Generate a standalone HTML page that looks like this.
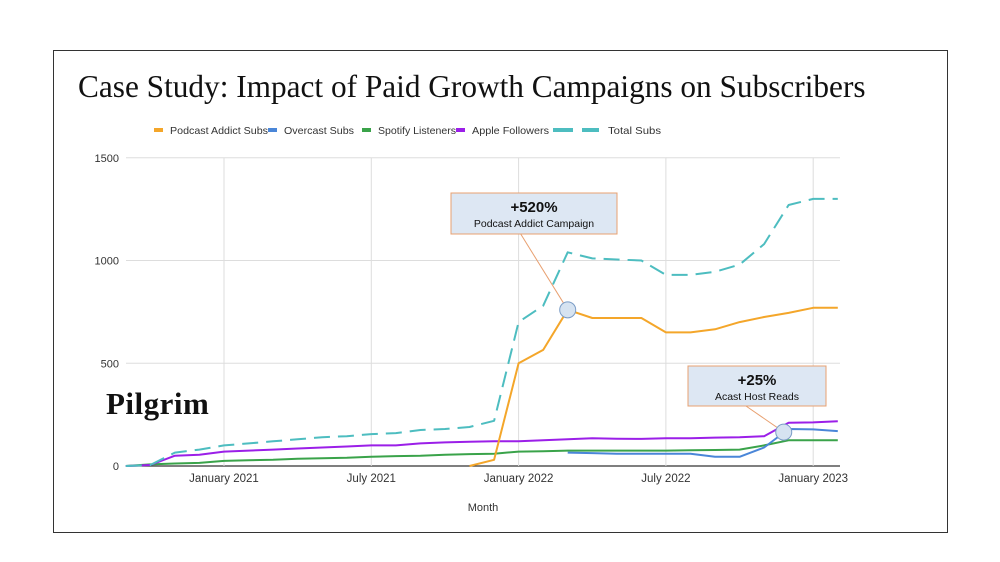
<!DOCTYPE html>
<html><head><meta charset="utf-8"><style>
body{margin:0;background:#fff;width:1000px;height:562px;overflow:hidden;font-family:"Liberation Sans",sans-serif}
#frame{position:absolute;left:53px;top:50px;width:895px;height:483px;border:1px solid #333;box-sizing:border-box}
#title{position:absolute;left:78px;top:69px;font-family:"Liberation Serif",serif;font-size:31.3px;color:#111;white-space:nowrap}
#logo{position:absolute;left:106px;top:386px;font-family:"Liberation Serif",serif;font-weight:bold;font-size:31px;color:#111;letter-spacing:0.5px}
svg{position:absolute;left:0;top:0}
</style></head><body>
<div id="frame"></div>
<div id="title">Case Study: Impact of Paid Growth Campaigns on Subscribers</div>
<svg id="chart" width="1000" height="562"></svg>
<div id="logo">Pilgrim</div>
<script>
// months relative to January 2021 (index 0)
const months=[-4,-3,-2,-1,0,1,2,3,4,5,6,7,8,9,10,11,12,13,14,15,16,17,18,19,20,21,22,23,24,25];
const totalSubs=[0,5,65,80,100,110,120,130,140,145,155,160,175,180,190,220,700,780,1040,1010,1005,1000,930,930,945,980,1080,1270,1300,1300];
const podcastAddict=[null,null,null,null,null,null,null,null,null,null,null,null,null,null,0,30,500,565,760,720,720,720,650,650,665,700,725,745,770,770];
const overcast=[null,null,null,null,null,null,null,null,null,null,null,null,null,null,null,null,null,null,65,63,60,60,60,60,45,45,90,180,178,170];
const spotify=[0,8,12,15,25,28,30,35,38,40,45,48,50,55,58,60,70,72,75,75,75,75,75,77,78,80,100,125,125,125];
const apple=[0,5,50,55,70,75,80,85,90,95,100,100,110,115,118,120,120,125,130,135,133,132,135,135,138,140,145,210,212,218];
const yTicks=[0,500,1000,1500];
const xTickMonths=[0,6,12,18,24];
const xTickLabels=["January 2021","July 2021","January 2022","July 2022","January 2023"];
const ns="http://www.w3.org/2000/svg",svg=document.getElementById('chart');
const X=m=>224+m*24.55, Y=v=>466-v*0.2055;
function mk(t,a,txt){const e=document.createElementNS(ns,t);for(const k in a)e.setAttribute(k,a[k]);if(txt!=null)e.textContent=txt;svg.appendChild(e);return e;}
yTicks.forEach(v=>{
 const l=mk('line',{x1:126,x2:840,y1:Y(v),y2:Y(v),stroke:v?'#ddd':'#333','stroke-width':v?1:1.2});
 
 const t=mk('text',{x:119,y:Y(v)+4,'text-anchor':'end','font-size':11,fill:'#333'},v);
 
});
xTickMonths.forEach((m,i)=>{
 const l=mk('line',{x1:X(m),x2:X(m),y1:Y(1500),y2:466,stroke:'#ddd'});
 
 const t=mk('text',{x:X(m),y:482,'text-anchor':'middle','font-size':11.5,fill:'#333'},xTickLabels[i]);
 
});
const xt=mk('text',{x:483,y:511,'text-anchor':'middle','font-size':11,fill:'#333'},'Month');

function series(vals,color,name,dash){
 let d='',pen=false;
 vals.forEach((v,i)=>{if(v==null){pen=false;return;}d+=(pen?'L':'M')+X(months[i]).toFixed(1)+','+Y(v).toFixed(1);pen=true;});
 const p=mk('path',{d:d,fill:'none',stroke:color,'stroke-width':2,'stroke-linejoin':'round'});
 if(dash)p.setAttribute('stroke-dasharray',dash);
 
}
series(spotify,'#3aa34a','spotify-line');
series(overcast,'#4a86d8','overcast-line');
series(apple,'#9b1fe8','apple-line');
series(podcastAddict,'#f4a62a','podcast-addict-line');
series(totalSubs,'#4dbdc0','total-subs-line','16,8');
// legend
const leg=[['Podcast Addict Subs','#f4a62a',154,170,98],['Overcast Subs','#4a86d8',268,284,70],['Spotify Listeners','#3aa34a',362,378,78],['Apple Followers','#9b1fe8',456,472,77]];
leg.forEach(L=>{
 const r=mk('rect',{x:L[2],y:128,width:9,height:4,fill:L[1]});
 
 const t=mk('text',{x:L[3],y:134,'font-size':10.5,fill:'#333',textLength:L[4],lengthAdjust:'spacingAndGlyphs'},L[0]);
 
});
const r1=mk('rect',{x:553,y:128,width:20,height:4,fill:'#4dbdc0'});
const r2=mk('rect',{x:582,y:128,width:17,height:4,fill:'#4dbdc0'});
const lt=mk('text',{x:608,y:134,'font-size':10.5,fill:'#333',textLength:53,lengthAdjust:'spacingAndGlyphs'},'Total Subs');
// annotations
function anno(bx,by,bw,bh,big,small,cx,cy,name){
 const ln=mk('line',{x1:bx+bw*0.42,y1:by+bh,x2:cx,y2:cy,stroke:'#e8a070','stroke-width':1});
 
 const c=mk('circle',{cx:cx,cy:cy,r:8,fill:'#d6e3f1',stroke:'#7a9cc6','stroke-width':1});
 
 const r=mk('rect',{x:bx,y:by,width:bw,height:bh,fill:'#dde7f3',stroke:'#e8a070','stroke-width':1});
 
 const t1=mk('text',{x:bx+bw/2,y:by+19,'text-anchor':'middle','font-size':15,'font-weight':'bold',fill:'#111'},big);
 
 const t2=mk('text',{x:bx+bw/2,y:by+34,'text-anchor':'middle','font-size':10.5,fill:'#111'},small);
 
}
anno(451,193,166,41,'+520%','Podcast Addict Campaign',X(14),Y(760),'podcast-annotation');
anno(688,366,138,40,'+25%','Acast Host Reads',X(22.8),Y(165),'acast-annotation');
</script>
</body></html>
